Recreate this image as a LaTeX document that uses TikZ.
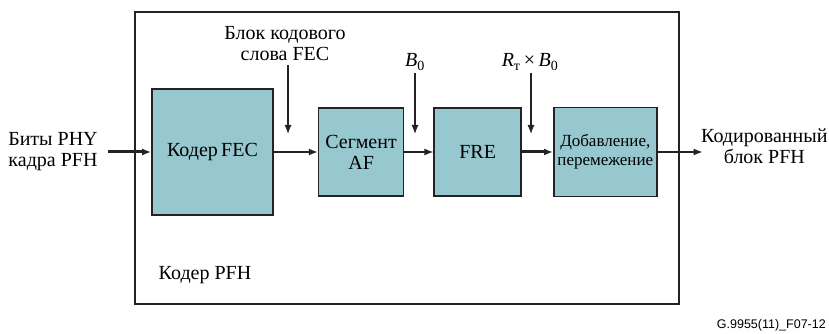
\documentclass[tikz,border=0pt]{standalone}
\usepackage{fontspec}
\setmainfont{Liberation Serif}
\setsansfont{Liberation Sans}
\usetikzlibrary{arrows.meta,positioning}
\definecolor{blockteal}{RGB}{151,200,207}
\definecolor{linegray}{RGB}{35,35,35}

\begin{document}
\begin{tikzpicture}[x=1pt,y=1pt,font=\fontsize{20}{21}\selectfont,
      blk/.style={rectangle, draw=linegray, line width=1.6pt, fill=blockteal, align=center, inner sep=0pt},
      lbl/.style={align=center, inner sep=1pt},
      arr/.style={-{Latex[length=9pt,width=7pt]}, line width=1.4pt, linegray},
      fat/.style={arr, line width=3pt}]
  \useasboundingbox (0,0) rectangle (829,334);
  \draw[line width=1.4pt, linegray] (135,30) rectangle (679,322);
  \node[blk, minimum width=121pt, minimum height=126pt] (fec) at (212.5,182) {Кодер\,FEC};
  \node[blk, minimum width=85pt, minimum height=88pt, right=44pt of fec] (af) {Сегмент\\AF};
  \node[blk, minimum width=87pt, minimum height=88pt, right=29pt of af] (fre) {FRE};
  \node[blk, minimum width=103pt, minimum height=89pt, right=31pt of fre,
        font=\fontsize{17}{19}\selectfont] (dob) {Добавление,\\перемежение};
  \node[lbl] (in) at (53,182) {Биты PHY\\кадра PFH};
  \coordinate[right=45pt of dob.east] (oe);
  \node[lbl, anchor=west] (out) at (700,188) {Кодированный\\блок PFH};
  \node[lbl] (enc) at (205,59) {Кодер PFH};
  \node[lbl, font=\sffamily\fontsize{12.5}{14}\selectfont, anchor=east] (fig) at (827,9) {G.9955(11)\_F07-12};
  % inputs from above
  \node[lbl] (cw) at (285,290) {Блок кодового\\слова FEC};
  \node[lbl] (b0) at (415,272) {\textit{B}\textsubscript{0}};
  \node[lbl] (rb) at (530,272) {\textit{R}\textsubscript{т}\,×\,\textit{B}\textsubscript{0}};
  \coordinate (t1) at (288,200);
  \coordinate (t2) at (415,200);
  \coordinate (t3) at (531,200);
  \draw[arr, line width=1.2pt] (cw.south -| t1) ++(0,-3) -- (t1);
  \draw[arr, line width=1.2pt] (b0.south -| t2) ++(0,-2) -- (t2);
  \draw[arr, line width=1.2pt] (rb.south -| t3) ++(0,-2) -- (t3);
  % main chain
  \draw[fat, shorten <=9pt] (in.east) -- (fec.west);
  \draw[arr] (fec) -- (af);
  \draw[arr] (af) -- (fre);
  \draw[fat] (fre) -- (dob);
  \draw[arr] (dob.east) -- (oe);
\end{tikzpicture}
\end{document}
